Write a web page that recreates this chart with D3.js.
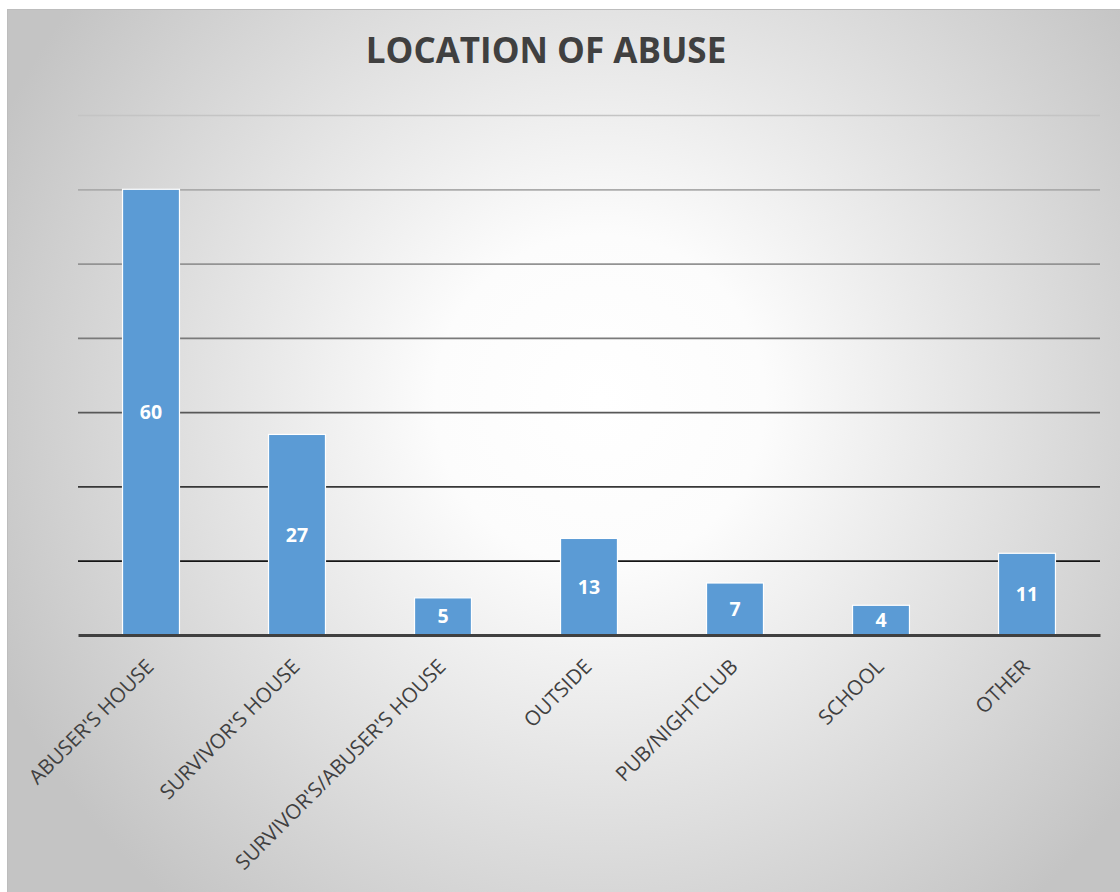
<!DOCTYPE html>
<html><head><meta charset="utf-8">
<script src="https://cdn.jsdelivr.net/npm/d3@7"></script>
<style>html,body{margin:0;padding:0;background:#fff;}svg{display:block;}</style>
</head><body>
<svg id="c" width="1120" height="892"></svg>
<script>
const title = "LOCATION OF ABUSE";
const categories = ["ABUSER'S HOUSE","SURVIVOR'S HOUSE","SURVIVOR'S/ABUSER'S HOUSE","OUTSIDE","PUB/NIGHTCLUB","SCHOOL","OTHER"];
const values = [60,27,5,13,7,4,11];
const yTicks = [0,10,20,30,40,50,60,70];

const svg = d3.select("#c");
const defs = svg.append("defs");
const bg = defs.append("radialGradient").attr("id","bg")
  .attr("gradientUnits","userSpaceOnUse").attr("cx",600).attr("cy",400).attr("r",660);
bg.append("stop").attr("offset","0").attr("stop-color","#ffffff");
bg.append("stop").attr("offset","0.25").attr("stop-color","#fcfcfc");
bg.append("stop").attr("offset","1").attr("stop-color","#c4c4c4");

const M = {left:78, right:1100, top:115, bottom:635};
const y = d3.scaleLinear().domain([0,70]).range([M.bottom, M.top]);
const x = d3.scaleBand().domain(categories).range([M.left, M.right]).paddingInner(0.61).paddingOuter(0.305);
const gridColor = d3.scaleLinear().domain([70,40,10]).range(["#c4c4c4","#7a7a7a","#151515"]);

svg.append("rect").attr("x",7.5).attr("y",9.5).attr("width",1120).attr("height",892)
  .attr("fill","url(#bg)").attr("stroke","#bdbdbd").attr("stroke-width",1);

svg.append("text").attr("x",546).attr("y",63).attr("text-anchor","middle")
  .attr("font-family","'Open Sans', sans-serif").attr("font-weight","bold").attr("font-size",35)
  .attr("fill","#404040").text(title);

// gridlines via axis
const yAxis = d3.axisLeft(y).tickValues(yTicks.filter(d=>d>0)).tickSize(-(M.right-M.left)).tickFormat("");
const ga = svg.append("g").attr("transform",`translate(${M.left},0)`).call(yAxis);
ga.select(".domain").remove();
ga.selectAll(".tick line").attr("stroke",d=>gridColor(d)).attr("stroke-width",1.7);

// bars
svg.append("g").selectAll("rect").data(values).join("rect")
  .attr("x",(d,i)=>x(categories[i])).attr("y",d=>y(d))
  .attr("width",x.bandwidth()).attr("height",d=>y(0)-y(d))
  .attr("fill","#5b9bd5").attr("stroke","#ffffff").attr("stroke-width",1.2);

// baseline axis
const xAxis = d3.axisBottom(x).tickSize(0).tickPadding(0);
const gx = svg.append("g").attr("transform",`translate(0,${M.bottom})`).call(xAxis);
gx.attr("font-size",null).attr("font-family",null);
gx.select(".domain").attr("stroke","#404040").attr("stroke-width",3.2);
gx.selectAll(".tick text")
  .style("font-family","'Open Sans', sans-serif").style("font-size","20.5px").attr("fill","#404040")
  .attr("text-anchor","end").attr("dy",null).attr("y",0)
  .attr("transform","translate(4,33) rotate(-45)");

// data labels
svg.append("g").selectAll("text").data(values).join("text")
  .attr("x",(d,i)=>x(categories[i])+x.bandwidth()/2)
  .attr("y",d=>(y(d)+y(0))/2).attr("dy","0.36em")
  .attr("text-anchor","middle").attr("font-family","'Open Sans', sans-serif")
  .attr("font-weight","bold").attr("font-size",19.5).attr("fill","#ffffff").text(d=>d);
</script>
</body></html>
